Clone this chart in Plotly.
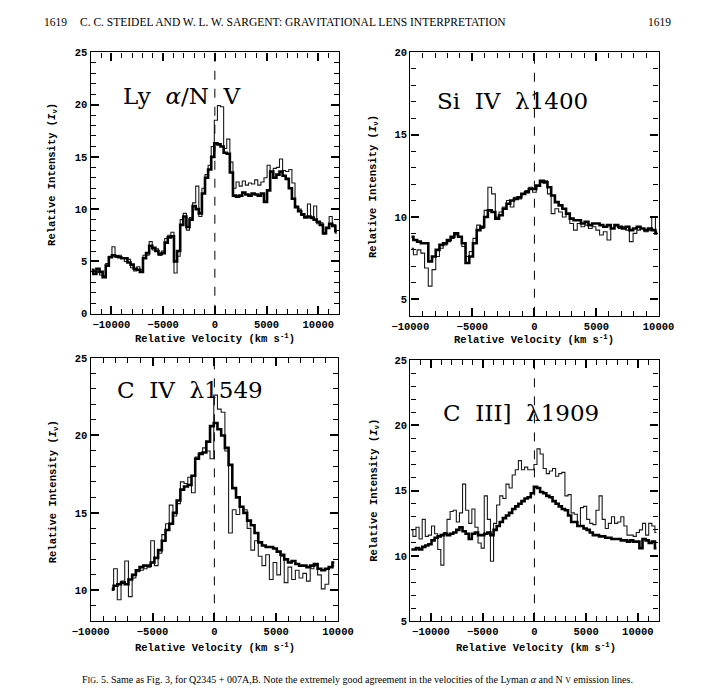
import plotly.graph_objects as go

# ---------------- data ----------------
# Panel 1: Ly alpha / N V  (velocity bins, km/s)
v_lya = [-11900, -11600, -11300, -11000, -10700, -10400, -10100, -9800, -9500, -9200,
         -8900, -8600, -8300, -8000, -7700, -7400, -7100, -6800, -6500, -6200,
         -5900, -5600, -5300, -5000, -4700, -4400, -4100, -3800, -3500, -3200,
         -2900, -2600, -2300, -2000, -1700, -1400, -1100, -800, -500, -200,
         100, 400, 700, 1000, 1300, 1600, 1900, 2200, 2500, 2800,
         3100, 3400, 3700, 4000, 4300, 4600, 4900, 5200, 5500, 5800,
         6100, 6400, 6700, 7000, 7300, 7600, 7900, 8200, 8500, 8800,
         9100, 9400, 9700, 10000, 10300, 10600, 10900, 11200, 11500, 11800]
lya_thick = [4.2, 3.8, 4.3, 4.0, 3.5, 4.6, 5.4, 5.6, 5.5, 5.4,
             5.3, 5.3, 4.9, 4.7, 4.3, 4.2, 4.0, 5.3, 5.8, 6.5,
             6.3, 6.0, 5.7, 5.8, 6.8, 7.3, 7.4, 5.0, 6.0, 8.5,
             9.3, 8.3, 9.0, 10.3, 10.0, 9.6, 11.5, 13.0, 13.8, 15.0,
             16.3, 16.2, 16.0, 15.4, 15.3, 13.5, 11.3, 11.2, 11.3, 11.6,
             11.4, 11.3, 11.5, 11.4, 11.3, 11.5, 10.7, 11.8, 13.6, 13.0,
             13.3, 13.6, 13.2, 12.9, 12.0, 11.0, 10.2, 9.8, 9.5, 9.2,
             9.3, 9.2, 9.0, 8.8, 8.5, 7.7, 8.2, 8.6, 8.4, 7.9]
lya_thin = [4.0, 4.1, 4.0, 3.7, 3.6, 4.8, 5.5, 6.4, 5.4, 5.6,
            5.3, 5.0, 5.2, 4.4, 4.1, 4.5, 4.2, 5.6, 5.6, 6.9,
            6.1, 6.2, 5.6, 6.0, 7.2, 7.5, 7.8, 3.9, 5.5, 9.0,
            9.6, 8.0, 9.2, 10.6, 12.2, 9.3, 12.0, 13.3, 14.2, 16.0,
            18.5, 19.9, 19.8, 15.8, 16.7, 14.5, 12.0, 12.6, 12.2, 12.7,
            12.3, 12.5, 12.4, 12.8, 12.3, 12.6, 13.0, 14.2, 13.5, 13.9,
            14.0, 14.8, 13.7, 13.6, 13.8, 12.5, 10.3, 10.0, 9.4, 9.3,
            10.5, 9.1, 10.3, 8.6, 8.7, 7.6, 8.3, 9.3, 8.5, 7.7]

# Panel 2: Si IV 1400
v_si = [-9900, -9600, -9300, -9000, -8700, -8400, -8100, -7800, -7500, -7200,
        -6900, -6600, -6300, -6000, -5700, -5400, -5100, -4800, -4500, -4200,
        -3900, -3600, -3300, -3000, -2700, -2400, -2100, -1800, -1500, -1200,
        -900, -600, -300, 0, 300, 600, 900, 1200, 1500, 1800,
        2100, 2400, 2700, 3000, 3300, 3600, 3900, 4200, 4500, 4800,
        5100, 5400, 5700, 6000, 6300, 6600, 6900, 7200, 7500, 7800,
        8100, 8400, 8700, 9000, 9300, 9600, 9900]
si_thick = [8.8, 8.6, 8.5, 8.4, 8.4, 7.3, 7.6, 8.0, 8.3, 8.4,
            8.6, 8.8, 9.0, 8.8, 8.4, 7.2, 7.6, 8.4, 9.2, 9.4,
            10.0, 10.4, 10.3, 9.9, 10.1, 10.5, 10.8, 11.0, 11.1, 11.2,
            11.4, 11.5, 11.7, 11.7, 11.9, 12.2, 12.1, 11.8, 11.3, 10.9,
            10.7, 10.5, 10.2, 9.9, 9.8, 9.8, 9.6, 9.7, 9.5, 9.6,
            9.6, 9.5, 9.4, 9.5, 9.3, 9.5, 9.4, 9.3, 9.4, 9.2,
            9.3, 9.4, 9.3, 9.2, 9.3, 9.2, 9.0]
si_thin = [8.1, 7.7, 8.0, 7.8, 6.9, 5.8, 6.8, 7.6, 8.1, 8.3,
           8.5, 8.7, 8.9, 8.8, 8.2, 7.6, 7.9, 8.7, 9.5, 9.3,
           10.4, 11.8, 11.4, 10.0, 10.3, 10.6, 11.0, 10.6, 11.2, 11.1,
           11.4, 11.6, 11.8, 11.5, 11.9, 12.1, 12.2, 11.4, 10.2, 10.5,
           10.3, 10.0, 10.2, 9.6, 9.2, 9.6, 9.4, 9.5, 9.3, 9.4,
           9.2, 8.9, 9.1, 8.6, 9.3, 9.5, 9.3, 9.4, 9.2, 8.5,
           9.0, 9.2, 9.3, 9.1, 9.2, 10.0, 9.1]

# Panel 3: C IV 1549
v_civ = [-8300, -8000, -7700, -7400, -7100, -6800, -6500, -6200, -5900, -5600,
         -5300, -5000, -4700, -4400, -4100, -3800, -3500, -3200, -2900, -2600,
         -2300, -2000, -1700, -1400, -1100, -800, -500, -200, 100, 400,
         700, 1000, 1300, 1600, 1900, 2200, 2500, 2800, 3100, 3400,
         3700, 4000, 4300, 4600, 4900, 5200, 5500, 5800, 6100, 6400,
         6700, 7000, 7300, 7600, 7900, 8200, 8500, 8800, 9100, 9400, 9700]
civ_thick = [10.1, 10.3, 10.4, 10.5, 10.4, 10.7, 11.0, 11.3, 11.5, 11.6,
             11.6, 11.8, 12.1, 12.6, 13.2, 13.9, 14.3, 15.0, 15.8, 16.5,
             16.7, 16.8, 17.4, 18.5, 18.8, 18.9, 19.6, 20.6, 20.8, 20.4,
             20.0, 19.2, 18.1, 16.6, 16.0, 15.4, 15.0, 14.5, 14.2, 13.7,
             13.1, 12.9, 12.8, 12.8, 12.7, 12.5, 12.3, 12.0, 11.8, 11.9,
             11.7, 11.6, 11.6, 11.5, 11.6, 11.7, 11.4, 11.3, 11.4, 11.5, 11.8]
civ_thin = [10.0, 11.4, 9.4, 10.6, 11.9, 9.6, 10.8, 11.2, 11.3, 11.4,
            11.5, 13.2, 11.6, 12.4, 13.6, 14.3, 15.5, 14.8, 15.6, 17.0,
            16.9, 17.3, 16.3, 18.6, 18.9, 19.2, 19.0, 18.5, 22.6, 21.7,
            21.5, 19.0, 13.7, 15.2, 14.9, 15.4, 15.2, 14.0, 12.6, 13.2,
            12.2, 11.6, 12.3, 10.7, 11.8, 11.0, 12.2, 10.5, 11.5, 10.7,
            11.3, 10.8, 11.1, 10.6, 11.4, 11.6, 11.0, 10.1, 10.4, 11.5, 11.6]

# Panel 4: C III] 1909
v_ciii = [-11900, -11600, -11300, -11000, -10700, -10400, -10100, -9800, -9500, -9200,
          -8900, -8600, -8300, -8000, -7700, -7400, -7100, -6800, -6500, -6200,
          -5900, -5600, -5300, -5000, -4700, -4400, -4100, -3800, -3500, -3200,
          -2900, -2600, -2300, -2000, -1700, -1400, -1100, -800, -500, -200,
          100, 400, 700, 1000, 1300, 1600, 1900, 2200, 2500, 2800,
          3100, 3400, 3700, 4000, 4300, 4600, 4900, 5200, 5500, 5800,
          6100, 6400, 6700, 7000, 7300, 7600, 7900, 8200, 8500, 8800,
          9100, 9400, 9700, 10000, 10300, 10600, 10900, 11200, 11500, 11800]
ciii_thick = [10.5, 10.5, 10.6, 10.5, 10.7, 10.8, 10.9, 11.2, 11.4, 11.5,
              11.6, 11.7, 11.6, 11.7, 11.8, 12.0, 12.2, 11.9, 11.7, 11.3,
              11.7, 11.8, 11.6, 11.6, 11.7, 11.8, 11.6, 12.0, 12.3, 12.6,
              12.9, 13.1, 13.3, 13.6, 13.8, 14.0, 14.2, 14.4, 14.5, 14.8,
              15.3, 15.2, 14.9, 14.8, 14.6, 14.5, 14.2, 14.0, 13.8, 13.6,
              13.5, 13.1, 12.6, 12.6, 12.3, 12.3, 12.1, 12.0, 11.8, 11.6,
              11.6, 11.5, 11.5, 11.4, 11.4, 11.3, 11.3, 11.3, 11.2, 11.2,
              11.1, 11.2, 11.1, 11.1, 10.6, 11.3, 11.2, 11.0, 11.1, 10.6]
ciii_thin = [12.0, 11.5, 12.2, 11.3, 12.8, 11.5, 11.6, 12.3, 11.7, 10.5,
             9.3, 11.8, 12.8, 13.4, 13.5, 12.6, 13.3, 15.5, 13.5, 12.5,
             13.6, 12.2, 11.0, 10.6, 14.6, 12.8, 9.6, 12.5, 13.9, 14.6,
             14.4, 15.5, 15.2, 16.2, 16.6, 17.3, 16.6, 16.8, 16.6, 16.6,
             17.0, 18.2, 17.8, 16.7, 16.3, 16.5, 16.7, 16.1, 16.3, 16.4,
             14.6, 14.7, 13.3, 13.2, 12.3, 13.7, 13.8, 12.8, 12.5, 12.4,
             13.5, 14.6, 12.8, 12.1, 12.5, 13.0, 12.5, 12.6, 13.0, 12.3,
             11.6, 11.6, 11.5, 11.8, 12.0, 12.5, 11.6, 12.5, 12.3, 11.8]

# axis ranges and tick labels
x_ranges = [[-12000, 12000], [-10000, 10000], [-10000, 10000], [-12000, 12000]]
y_ranges = [[0, 25], [4, 20], [8, 25], [5, 25]]
x_tickvals = [-10000, -5000, 0, 5000, 10000]
x_ticktext = ["\u221210000", "\u22125000", "0", "5000", "10000"]
y_tickvals = [[0, 5, 10, 15, 20, 25], [5, 10, 15, 20], [10, 15, 20, 25], [5, 10, 15, 20, 25]]
panel_labels = ["Ly\u00a0\u00a0<i>\u03b1</i>/N\u00a0\u00a0V", "Si\u00a0\u00a0IV\u00a0\u00a0\u03bb1400",
                "C\u00a0\u00a0IV\u00a0\u00a0\u03bb1549", "C\u00a0\u00a0III]\u00a0\u00a0\u03bb1909"]

W, H = 716, 699
OFF = 8  # the page adds an 8 px body margin; positions below are page pixels

# panel boxes in page pixels: left, right, top, bottom
boxes = [(75, 336, 48, 314), (411, 672, 48, 316), (75, 335, 359, 627), (411, 672, 361, 627)]

def px(x):
    return (x - OFF) / W

def py(y):
    return 1 - (y - OFF) / H

fig = go.Figure()
series = [(v_lya, lya_thick, lya_thin), (v_si, si_thick, si_thin),
          (v_civ, civ_thick, civ_thin), (v_ciii, ciii_thick, ciii_thin)]

for i, (v, thick, thin) in enumerate(series):
    sfx = "" if i == 0 else str(i + 1)
    fig.add_trace(go.Scatter(x=v, y=thin, mode="lines", line=dict(color="#1a1a1a", width=1.1, shape="hvh"),
                             xaxis="x" + sfx, yaxis="y" + sfx, showlegend=False, hoverinfo="skip"))
    fig.add_trace(go.Scatter(x=v, y=thick, mode="lines", line=dict(color="black", width=2.6, shape="hvh"),
                             xaxis="x" + sfx, yaxis="y" + sfx, showlegend=False, hoverinfo="skip"))

tickfont = dict(family="Liberation Mono", size=10.5, color="black", weight="bold")
layout = dict(width=W, height=H, autosize=False, margin=dict(l=0, r=0, t=0, b=0),
              paper_bgcolor="white", plot_bgcolor="white", showlegend=False)
shapes = []
annotations = []
for i, (l, r, t, b) in enumerate(boxes):
    sfx = "" if i == 0 else str(i + 1)
    x0, x1 = x_ranges[i]
    y0, y1 = y_ranges[i]
    layout["xaxis" + sfx] = dict(domain=[px(l), px(r)], anchor="y" + sfx, range=x_ranges[i],
                                  tickmode="array", tickvals=x_tickvals, ticktext=x_ticktext,
                                  ticks="inside", ticklen=8, tickwidth=1.5, tickcolor="black",
                                  showline=True, linecolor="black", linewidth=1.4, mirror="ticks",
                                  showgrid=False, zeroline=False, tickfont=tickfont,
                                  minor=dict(tickmode="array", tickvals=list(range(x0, x1 + 1, 1000)),
                                             ticks="inside", ticklen=5,
                                             tickwidth=1.3, tickcolor="black", showgrid=False))
    layout["yaxis" + sfx] = dict(domain=[py(b), py(t)], anchor="x" + sfx, range=y_ranges[i],
                                  tickmode="array", tickvals=y_tickvals[i],
                                  ticks="inside", ticklen=8, tickwidth=1.5, tickcolor="black",
                                  showline=True, linecolor="black", linewidth=1.4, mirror="ticks",
                                  showgrid=False, zeroline=False, tickfont=tickfont,
                                  minor=dict(tickmode="array", tickvals=list(range(y0, y1 + 1)),
                                             ticks="inside", ticklen=5,
                                             tickwidth=1.3, tickcolor="black", showgrid=False))
    shapes.append(dict(type="line", xref="x" + sfx, yref="y" + sfx + " domain", x0=0, x1=0, y0=0, y1=1,
                       line=dict(color="black", width=1, dash="dash")))

layout["shapes"] = shapes

# panel labels
label_pos = [(107, 92), (437, 98), (100, 392), (443, 415)]
for (x, y), txt in zip(label_pos, panel_labels):
    annotations.append(dict(text=txt, x=px(x), y=py(y), xref="paper", yref="paper", xanchor="left",
                            yanchor="middle", showarrow=False,
                            font=dict(family="DejaVu Serif", size=23, color="black")))

axfont = dict(family="Liberation Mono", size=10.5, color="black", weight="bold")
xtitle = "Relative Velocity (km s<sup>-1</sup>)"
ytitle = "Relative Intensity (<i>I</i><sub>\u03bd</sub>)"
for x, y in [(206, 339), (541, 340), (206, 654), (543, 654)]:
    annotations.append(dict(text=xtitle, x=px(x), y=py(y), xref="paper", yref="paper", xanchor="center",
                            yanchor="middle", showarrow=False, font=axfont))
for x, y in [(34, 172), (373, 185), (36, 495), (373, 494)]:
    annotations.append(dict(text=ytitle, x=px(x), y=py(y), xref="paper", yref="paper", xanchor="center",
                            yanchor="middle", showarrow=False, textangle=-90, font=axfont))

serif = dict(family="Liberation Serif", size=11.5, color="black")
annotations.append(dict(text="1619", x=px(24), y=py(17), xref="paper", yref="paper", xanchor="left",
                        yanchor="middle", showarrow=False, font=serif))
annotations.append(dict(text="C. C. STEIDEL AND W. L. W. SARGENT: GRAVITATIONAL LENS INTERPRETATION",
                        x=px(62), y=py(17), xref="paper", yref="paper", xanchor="left",
                        yanchor="middle", showarrow=False, font=serif))
annotations.append(dict(text="1619", x=px(687), y=py(17), xref="paper", yref="paper", xanchor="right",
                        yanchor="middle", showarrow=False, font=serif))
caption = ("F<span style='font-size:8px'>IG</span>. 5. Same as Fig. 3, for Q2345 + 007A,B. Note the extremely good "
           "agreement in the velocities of the Lyman <i>\u03b1</i> and N <span style='font-size:8px'>V</span> emission lines.")
annotations.append(dict(text=caption, x=px(64), y=py(686), xref="paper", yref="paper", xanchor="left",
                        yanchor="middle", showarrow=False, font=dict(family="Liberation Serif", size=10, color="black")))

layout["annotations"] = annotations
fig.update_layout(**layout)
fig.write_html("out.html")
